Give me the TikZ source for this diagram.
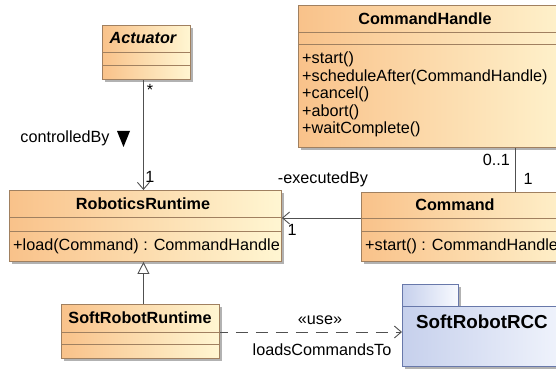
\documentclass[tikz,border=0pt]{standalone}
\usepackage{fontspec}
\setmainfont{Liberation Sans}
\usetikzlibrary{arrows.meta,shadows}

\definecolor{clsleft}{RGB}{249,194,138}
\definecolor{clsright}{RGB}{255,246,210}
\definecolor{clsborder}{RGB}{160,128,96}
\definecolor{pkgleft}{RGB}{198,208,236}
\definecolor{pkgright}{RGB}{248,250,255}
\definecolor{pkgborder}{RGB}{104,120,170}
\definecolor{linkgray}{RGB}{80,80,80}

\begin{document}
\begin{tikzpicture}[x=1pt,y=-1pt]
    \tikzstyle{every node}=[font=\fontsize{16.2}{17.6}\selectfont, inner sep=0pt]
    \tikzstyle{classbox}=[draw=clsborder, line width=0.9pt, left color=clsleft,
      right color=clsright, anchor=north west,
      drop shadow={shadow xshift=3pt, shadow yshift=-3pt, fill=black!30, opacity=1}]
    \tikzstyle{pkgbox}=[draw=pkgborder, line width=0.9pt, left color=pkgleft,
      right color=pkgright, anchor=north west,
      drop shadow={shadow xshift=3pt, shadow yshift=-3pt, fill=black!30, opacity=1}]
    \tikzstyle{compart}=[draw=clsborder, line width=0.9pt]
    \tikzstyle{title}=[font=\fontsize{16.2}{17.6}\selectfont\bfseries]
    \tikzstyle{link}=[draw=linkgray, line width=0.9pt]
    \tikzstyle{assoc}=[link, -{Straight Barb[length=7pt, width=12pt, line width=0.9pt]}]
    \tikzstyle{gen}=[link, -{Triangle[open, length=12pt, width=12pt, line width=0.9pt, fill=white]}]
    \tikzstyle{dep}=[link, dash pattern=on 12pt off 8pt, dash phase=4pt,
      -{Straight Barb[length=7pt, width=12pt, line width=0.9pt]}]

      \useasboundingbox (0,0) rectangle (556,371);
      \clip (0,0) rectangle (556,371);

      % class boxes
      \node[classbox, minimum width=88pt, minimum height=54pt] (act) at (102,25) {};
      \node[classbox, minimum width=272pt, minimum height=71pt] (rr) at (9,190) {};
      \node[classbox, minimum width=158pt, minimum height=54pt] (srr) at (61,304) {};
      \node[classbox, minimum width=290pt, minimum height=142pt] (ch) at (298,5) {};
      \node[classbox, minimum width=230pt, minimum height=69pt] (cmd) at (361,192) {};

      % package
      \node[pkgbox, minimum width=56pt, minimum height=22pt] (rcctab) at (402,284) {};
      \node[pkgbox, minimum width=190pt, minimum height=60pt] (rcc) at (402,306) {};

      % compartments
      \draw[compart] (act.west |- 0,52) -- (act.east |- 0,52);
      \draw[compart] (act.west |- 0,65) -- (act.east |- 0,65);
      \draw[compart] (rr.west |- 0,217) -- (rr.east |- 0,217);
      \draw[compart] (rr.west |- 0,231) -- (rr.east |- 0,231);
      \draw[compart] (srr.west |- 0,332) -- (srr.east |- 0,332);
      \draw[compart] (srr.west |- 0,344) -- (srr.east |- 0,344);
      \draw[compart] (ch.west |- 0,32) -- (ch.east |- 0,32);
      \draw[compart] (ch.west |- 0,44) -- (ch.east |- 0,44);
      \draw[compart] (cmd.west |- 0,218) -- (cmd.east |- 0,218);
      \draw[compart] (cmd.west |- 0,231) -- (cmd.east |- 0,231);

      % titles
      \node[title, font=\fontsize{16.2}{17.6}\selectfont\bfseries\itshape] (act-t) at (143,38.5) {Actuator};
      \node[title] (rr-t) at (143,203.5) {RoboticsRuntime};
      \node[title] (srr-t) at (140,318) {SoftRobotRuntime};
      \node[title] (ch-t) at (425,18.5) {CommandHandle};
      \node[title] (cmd-t) at (455,205) {Command};
      \node[font=\fontsize{18.8}{20}\selectfont\bfseries, anchor=west] (rcc-t) at (416,322) {SoftRobotRCC};

      % operations
      \node[anchor=west] (rr-op) at (13,246) {+load(Command) : CommandHandle};
      \node[anchor=west] (cmd-op) at (365,246) {+start() : CommandHandle};
      \node[anchor=north west, align=left] (ch-op) at (302,51.5)
        {+start()\\+scheduleAfter(CommandHandle)\\+cancel()\\+abort()\\+waitComplete()};

      % connectors
      \draw[assoc] ([xshift=-3pt]act.south) -- ([xshift=-3pt]act.south |- rr.north);
      \draw[gen] ([xshift=3pt]srr.north) -- ([xshift=3pt]srr.north |- rr.south);
      \draw[assoc] ([yshift=-26pt]cmd.north west) -- ([yshift=-26pt]cmd.north west -| rr.east);
      \draw[link] (ch.south -| 515,0) -- (cmd.north -| 515,0);
      \draw[dep] ([yshift=-28pt]srr.north east) -- ([yshift=-28pt]srr.north east -| rcc.west);

      % association labels
      \node (act-m) at (150,90) {*};
      \node (rr-m) at (150,177) {1};
      \node (ctl) at (65,138) {controlledBy};
      \fill[black] (117,131) -- (130,131) -- (123.5,147) -- cycle;
      \node (exe) at (323,179) {-executedBy};
      \node (rr-m2) at (292,230) {1};
      \node[anchor=east] (ch-m) at (510,160) {0..1};
      \node (cmd-m) at (528,179) {1};
      \node (use) at (320,320) {«use»};
      \node (lct) at (322,350) {loadsCommandsTo};

\end{tikzpicture}
\end{document}
